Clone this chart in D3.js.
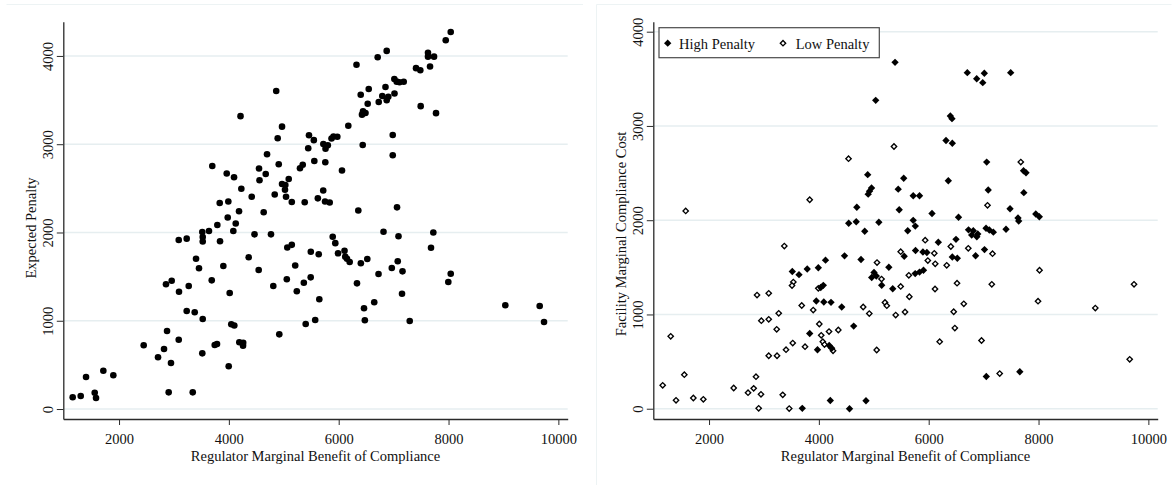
<!DOCTYPE html>
<html>
<head>
<meta charset="utf-8">
<script src="https://cdn.jsdelivr.net/npm/d3@7"></script>
<style>
  html, body { margin: 0; padding: 0; background: #ffffff; }
  svg { display: block; }
  text { font-family: "Liberation Serif", "Times New Roman", serif; fill: #111; }
</style>
</head>
<body>
<svg id="chart" width="1173" height="485"></svg>
<script>
// Regulator marginal benefit (x) vs expected penalty (y), one point per facility
const penaltyPoints = [
  [1156,133],[1302,147],[1399,363],[1557,185],[1581,125],[1714,434],[1896,382],[2449,722],[2710,586],[2819,680],
  [2874,884],[2855,1413],[2959,1454],[2904,189],[2946,521],[3087,785],[3092,1329],[3087,1915],[3232,1930],[3269,1394],
  [3232,1110],[3342,189],[3378,1096],[3402,1703],[3456,1594],[3516,631],[3524,1020],[3516,2006],[3524,1949],[3524,1898],
  [3638,2017],[3688,1458],[3698,2753],[3742,725],[3784,737],[3790,2085],[3833,2334],[3839,1900],[3899,1620],[3961,2668],
  [3979,2170],[3990,2351],[3997,484],[4015,1314],[4044,960],[4099,946],[4081,2017],[4094,2625],[4125,2102],[4185,2240],
  [4190,756],[4261,751],[4258,716],[4212,3318],[4227,2495],[4361,1720],[4416,2405],[4467,1979],[4543,1575],[4549,2725],
  [4558,2591],[4634,2229],[4671,2663],[4695,2886],[4767,1979],[4809,1394],[4835,2430],[4862,3603],[4889,3067],[4908,2773],
  [4918,846],[4968,3199],[4968,2549],[5028,2538],[5022,2484],[5041,2405],[5090,2606],[5055,1470],[5064,1830],[5146,1860],
  [5146,2345],[5208,1626],[5237,1335],[5295,2727],[5345,2768],[5365,1431],[5381,2343],[5399,963],[5445,2955],[5459,3102],
  [5490,1492],[5492,1782],[5547,3046],[5556,2810],[5572,1008],[5620,2387],[5636,1753],[5647,1243],[5718,2476],[5720,3003],
  [5751,2351],[5756,2795],[5760,2949],[5802,2988],[5836,2340],[5869,3065],[5891,1951],[5905,3088],[5938,1879],[5975,3085],
  [5988,1764],[6060,2702],[6106,1793],[6119,1726],[6151,1703],[6200,1666],[6175,3209],[6324,3901],[6333,1424],[6357,2249],
  [6401,3560],[6403,1652],[6424,3335],[6443,3373],[6488,3354],[6437,2991],[6461,1141],[6476,1006],[6521,1700],[6528,3459],
  [6547,3626],[6647,1209],[6710,3985],[6729,3479],[6725,1530],[6794,3547],[6816,2009],[6852,3648],[6874,4057],[6874,3498],
  [6903,3538],[6967,1598],[6984,3105],[6984,2875],[7016,3575],[7013,3739],[7056,3709],[7062,2285],[7075,1674],[7089,1958],
  [7107,3702],[7184,3707],[7153,1306],[7162,1560],[7293,997],[7408,3862],[7486,3838],[7493,3431],[7626,4037],[7626,3992],
  [7663,3881],[7736,3992],[7681,1827],[7723,2000],[7772,3352],[7949,4178],[8040,4272],[7996,1439],[8040,1533],[9034,1175],
  [9660,1167],[9739,986]
];

// Regulator marginal benefit (x) vs facility marginal compliance cost (y), high-penalty facilities
const highPenaltyPoints = [
  [5035,3272],[5387,3675],[6703,3565],[6874,3501],[7013,3559],[6984,3459],[7493,3565],[6394,3106],[6424,3077],[6315,2846],
  [6430,2816],[7056,2617],[7727,2525],[7772,2504],[4889,2483],[5545,2445],[6357,2419],[4959,2342],[4922,2308],[4898,2276],
  [5445,2329],[7084,2320],[7732,2292],[5718,2259],[5833,2259],[4691,2138],[5463,2111],[6060,2071],[6543,2031],[7481,2122],
  [7626,2023],[7639,1991],[7950,2066],[8014,2037],[4543,1968],[4680,1984],[4835,1883],[5092,1978],[5718,1999],[5756,1938],
  [5618,1888],[6725,1898],[6812,1888],[6876,1824],[6893,1854],[6783,1843],[7044,1915],[7104,1896],[7177,1873],[7408,1904],
  [6175,1766],[6497,1797],[7016,1688],[5554,1618],[5760,1679],[5895,1663],[5967,1657],[6430,1610],[6521,1596],[6854,1623],
  [3516,1456],[3638,1422],[3788,1482],[3990,1496],[4121,1576],[4467,1622],[4767,1583],[5274,1501],[5004,1445],[5046,1408],
  [4962,1392],[5144,1310],[5345,1273],[5754,1434],[5833,1450],[5905,1469],[4081,1309],[4034,1286],[3953,1143],[4090,1132],
  [4221,1129],[4416,1079],[4634,877],[3833,798],[3975,626],[4188,671],[4234,642],[7049,342],[7659,392],[3698,4],
  [4208,87],[4558,0],[4858,85]
];

// Same axes, low-penalty facilities
const lowPenaltyPoints = [
  [1575,2098],[3833,2217],[4540,2653],[5368,2782],[7677,2617],[7071,2158],[3371,1726],[5936,1788],[6403,1721],[6721,1702],
  [7162,1645],[5490,1666],[6102,1649],[5984,1572],[6119,1537],[6328,1521],[5059,1551],[5141,1376],[5638,1415],[8018,1469],
  [3535,1344],[3511,1307],[3990,1277],[5490,1297],[5647,1188],[6115,1270],[6516,1332],[7149,1320],[7991,1141],[9034,1068],
  [9739,1320],[9660,524],[2874,1206],[3087,1224],[3688,1095],[3897,1047],[3269,1012],[4807,1079],[4918,1010],[5204,1127],
  [5237,1093],[5399,994],[5569,1026],[6639,1113],[6455,1029],[6476,856],[2952,934],[3087,949],[3232,842],[4008,899],
  [4043,779],[4185,819],[4354,835],[3524,697],[3402,626],[3748,658],[4072,711],[4103,681],[4258,614],[3087,562],
  [3238,562],[5053,623],[6200,711],[6962,724],[1302,768],[1156,248],[1399,89],[1550,361],[1714,114],[1896,100],
  [2449,220],[2710,170],[2813,216],[2855,340],[2946,153],[2904,4],[3342,147],[3460,2],[7293,373]
];

const xTicks = [2000, 4000, 6000, 8000, 10000];
const yTicks = [0, 1000, 2000, 3000, 4000];
const xTitle = "Regulator Marginal Benefit of Compliance";
const leftYTitle = "Expected Penalty";
const rightYTitle = "Facility Marginal Compliance Cost";
const legendLabels = ["High Penalty", "Low Penalty"];

const svg = d3.select("#chart");
const FONT = "14.5px";
const GRID = "#e6eef0";
const AXIS = "#2a2a2a";
const FRAME = "#edf3f4";

// faint outlines of the two graph regions
svg.append("line").attr("x1", 6.5).attr("x2", 583).attr("y1", 4.5).attr("y2", 4.5)
  .attr("stroke", FRAME).attr("stroke-width", 1);
svg.append("path").attr("d", "M596.5,490V4.5H1171.5")
  .attr("fill", "none").attr("stroke", FRAME).attr("stroke-width", 1);

function panel(opts) {
  const x = d3.scaleLinear().domain(opts.xDomain).range([opts.left, opts.right]);
  const y = d3.scaleLinear().domain(opts.yDomain).range([opts.bottom, opts.top]);
  const g = svg.append("g");

  // horizontal grid
  g.append("g").selectAll("line").data(yTicks).join("line")
    .attr("x1", opts.left).attr("x2", opts.right)
    .attr("y1", d => y(d)).attr("y2", d => y(d))
    .attr("stroke", GRID).attr("stroke-width", 1.4);

  // x axis
  const xa = g.append("g").attr("transform", `translate(0,${opts.bottom})`)
    .call(d3.axisBottom(x).tickValues(xTicks).tickSize(6).tickSizeOuter(0).tickFormat(d3.format("d")));
  xa.select(".domain").attr("stroke", AXIS).attr("stroke-width", 1.3);
  xa.selectAll(".tick line").attr("stroke", AXIS).attr("stroke-width", 1);
  xa.selectAll(".tick text").attr("y", 25).attr("dy", 0)
    .style("font-size", FONT).style("font-family", '"Liberation Serif", serif').attr("fill", "#111");

  // y axis with rotated labels
  const ya = g.append("g").attr("transform", `translate(${opts.left},0)`)
    .call(d3.axisLeft(y).tickValues(yTicks).tickSize(6.5).tickSizeOuter(0).tickFormat(d3.format("d")));
  ya.select(".domain").attr("stroke", AXIS).attr("stroke-width", 1.3);
  ya.selectAll(".tick line").attr("stroke", AXIS).attr("stroke-width", 1);
  ya.selectAll(".tick text")
    .attr("transform", "rotate(-90)").attr("x", 0).attr("y", -10).attr("dy", 0)
    .attr("text-anchor", "middle")
    .style("font-size", FONT).style("font-family", '"Liberation Serif", serif').attr("fill", "#111");

  // axis titles
  g.append("text").attr("x", (opts.left + opts.right) / 2).attr("y", 461)
    .attr("text-anchor", "middle").style("font-size", FONT).text(xTitle);
  g.append("text").attr("transform", `translate(${opts.yTitleX},${opts.yTitleY}) rotate(-90)`)
    .attr("text-anchor", "middle").style("font-size", FONT).text(opts.yTitle);

  return { g, x, y };
}

// left: expected penalty
const L = panel({
  left: 63.3, right: 567.7, top: 21.7, bottom: 419,
  xDomain: [985, 10170], yDomain: [-113, 4388],
  yTitle: leftYTitle, yTitleX: 36, yTitleY: 228
});
L.g.append("g").selectAll("circle").data(penaltyPoints).join("circle")
  .attr("cx", d => L.x(d[0])).attr("cy", d => L.y(d[1]))
  .attr("r", 3.3).attr("fill", "#000");

// right: compliance cost by penalty group
const R = panel({
  left: 653.3, right: 1157.7, top: 21.7, bottom: 419,
  xDomain: [985, 10170], yDomain: [-109, 4106],
  yTitle: rightYTitle, yTitleX: 626, yTitleY: 234
});
const filledDiamond = d3.symbol(d3.symbolSquare, 27)();
const hollowDiamond = d3.symbol(d3.symbolSquare, 14.5)();

R.g.append("g").selectAll("path").data(lowPenaltyPoints).join("path")
  .attr("d", hollowDiamond)
  .attr("transform", d => `translate(${R.x(d[0])},${R.y(d[1])}) rotate(45)`)
  .attr("fill", "#fff").attr("stroke", "#000").attr("stroke-width", 1.35);
R.g.append("g").selectAll("path").data(highPenaltyPoints).join("path")
  .attr("d", filledDiamond)
  .attr("transform", d => `translate(${R.x(d[0])},${R.y(d[1])}) rotate(45)`)
  .attr("fill", "#000");

// legend
const lg = svg.append("g").attr("transform", "translate(659,27.7)");
lg.append("rect").attr("width", 220.3).attr("height", 30)
  .attr("fill", "#fff").attr("stroke", "#4a4a4a").attr("stroke-width", 1.2);
lg.append("path").attr("d", filledDiamond).attr("transform", "translate(8.7,15.5) rotate(45)").attr("fill", "#000");
lg.append("text").attr("x", 20).attr("y", 21).style("font-size", FONT).text(legendLabels[0]);
lg.append("path").attr("d", hollowDiamond).attr("transform", "translate(124,15.5) rotate(45)")
  .attr("fill", "#fff").attr("stroke", "#000").attr("stroke-width", 1.35);
lg.append("text").attr("x", 136.7).attr("y", 21).style("font-size", FONT).text(legendLabels[1]);
</script>
</body>
</html>
